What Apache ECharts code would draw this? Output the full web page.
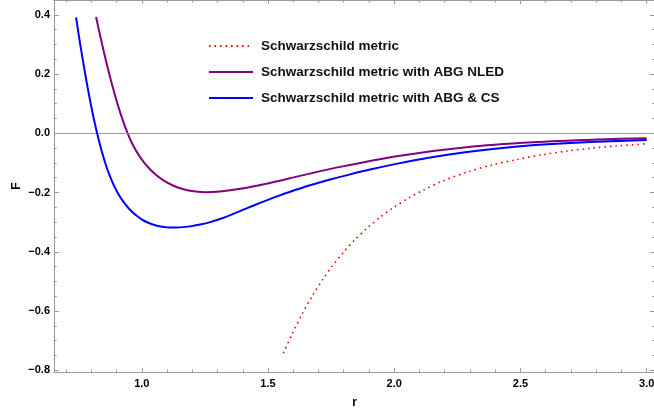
<!DOCTYPE html>
<html>
<head>
<meta charset="utf-8">
<script src="https://cdn.jsdelivr.net/npm/echarts@6/dist/echarts.min.js"></script>
<style>
  html, body { margin: 0; padding: 0; background: #fff; }
  #chart { width: 654px; height: 412px; }
</style>
</head>
<body>
<div id="chart"></div>
<script>
// Series names
const seriesNames = [
  'Schwarzschild metric',
  'Schwarzschild metric with ABG NLED',
  'Schwarzschild metric with ABG & CS'
];

// F(r) samples, [r, F]
const schwarzschild = [
  [1.5610, -0.7427], [1.5955, -0.6776], [1.6351, -0.6104], [1.6787, -0.5449],
  [1.7183, -0.4919], [1.7579, -0.4446], [1.7979, -0.4028], [1.8451, -0.3585],
  [1.8926, -0.3201], [1.9441, -0.2836], [1.9956, -0.2519], [2.0551, -0.2198],
  [2.1145, -0.1921], [2.1938, -0.1604], [2.2968, -0.1290], [2.3879, -0.1070],
  [2.4869, -0.0885], [2.5860, -0.0726], [2.6850, -0.0598], [2.7841, -0.0503],
  [2.8811, -0.0429], [3.0000, -0.0354]
];

const abgNled = [
  [0.8189, 0.3926], [0.8348, 0.3309], [0.8506, 0.2721], [0.8665, 0.2164],
  [0.8863, 0.1519], [0.9061, 0.0932], [0.9219, 0.0510], [0.9417, 0.0051],
  [0.9655, -0.0405], [0.9933, -0.0807], [1.0250, -0.1148], [1.0606, -0.1435],
  [1.0923, -0.1621], [1.1240, -0.1762], [1.1557, -0.1865], [1.1914, -0.1941],
  [1.2231, -0.1977], [1.2508, -0.1987], [1.3102, -0.1963], [1.3895, -0.1875],
  [1.4885, -0.1710], [1.6272, -0.1438], [1.7857, -0.1134], [2.0234, -0.0755],
  [2.2849, -0.0471], [2.5503, -0.0306], [2.8158, -0.0209], [3.0000, -0.0165]
];

const abgCs = [
  [0.7397, 0.3916], [0.7555, 0.3035], [0.7754, 0.2029], [0.7872, 0.1465],
  [0.7991, 0.0939], [0.8110, 0.0452], [0.8229, 0.0007], [0.8348, -0.0398],
  [0.8467, -0.0763], [0.8586, -0.1087], [0.8704, -0.1374], [0.8823, -0.1624],
  [0.8942, -0.1843], [0.9061, -0.2032], [0.9180, -0.2198], [0.9338, -0.2387],
  [0.9497, -0.2549], [0.9655, -0.2684], [0.9814, -0.2795], [1.0012, -0.2912],
  [1.0210, -0.3003], [1.0408, -0.3072], [1.0606, -0.3123], [1.0804, -0.3157],
  [1.1002, -0.3177], [1.1240, -0.3184], [1.1517, -0.3177], [1.1914, -0.3143],
  [1.2310, -0.3082], [1.2706, -0.3001], [1.3181, -0.2870], [1.3697, -0.2697],
  [1.4172, -0.2529], [1.4687, -0.2350], [1.5281, -0.2154], [1.5876, -0.1975],
  [1.6668, -0.1757], [1.7461, -0.1563], [1.8253, -0.1388], [1.9045, -0.1226],
  [2.0234, -0.1008], [2.1422, -0.0820], [2.2809, -0.0641], [2.4196, -0.0503],
  [2.5582, -0.0398], [2.6969, -0.0324], [2.8554, -0.0267], [3.0000, -0.0228]
];

// Tick positions
const xMajorTicks = [1.0, 1.5, 2.0, 2.5, 3.0];
const xMinorTicks = [0.7, 0.8, 0.9, 1.1, 1.2, 1.3, 1.4, 1.6, 1.7, 1.8, 1.9,
                     2.1, 2.2, 2.3, 2.4, 2.6, 2.7, 2.8, 2.9];
const yMajorTicks = [-0.8, -0.6, -0.4, -0.2, 0.0, 0.2, 0.4];
const yMinorTicks = [-0.75, -0.7, -0.65, -0.55, -0.5, -0.45, -0.35, -0.3, -0.25,
                     -0.15, -0.1, -0.05, 0.05, 0.1, 0.15, 0.25, 0.3, 0.35, 0.45];

const rRange = [0.6523, 3.033];
const fRange = [-0.806, 0.45];

const FONT = '"Liberation Sans", Arial, Helvetica, sans-serif';
const AXIS_GRAY = '#9a9a9a';

function fmt(v) {
  const s = Math.abs(v).toFixed(1);
  return (v < -1e-9 ? '\u2212' : '') + s;
}

// Frame axis builder: one axis per side and tick size
function frameAxis(dim, position, ticks, len, opts) {
  const range = dim === 'x' ? rRange : fRange;
  return Object.assign({
    type: 'value',
    position: position,
    min: range[0],
    max: range[1],
    axisLine: { show: true, onZero: false, lineStyle: { color: AXIS_GRAY, width: 1 } },
    axisTick: { show: true, inside: true, length: len, customValues: ticks,
                lineStyle: { color: AXIS_GRAY, width: 1 } },
    axisLabel: { show: false },
    splitLine: { show: false },
    minorTick: { show: false },
    minorSplitLine: { show: false }
  }, opts || {});
}

const labelStyle = { fontFamily: FONT, fontWeight: 'bold', fontSize: 11, color: '#000' };

const chart = echarts.init(document.getElementById('chart'), null, { renderer: 'canvas' });

chart.setOption({
  animation: false,
  backgroundColor: '#fff',
  grid: { left: 54, top: 0, width: 601, height: 372, containLabel: false,
          outerBoundsMode: 'none' },
  legend: {
    orient: 'vertical',
    left: 203,
    top: 34,
    itemWidth: 44,
    itemHeight: 12,
    itemGap: 12,
    data: seriesNames,
    itemStyle: { opacity: 0 },
    textStyle: { fontFamily: FONT, fontWeight: 'bold', fontSize: 13.5, color: '#111',
                 padding: [0, 0, 0, 3] }
  },
  xAxis: [
    frameAxis('x', 'bottom', xMajorTicks, 4, {
      axisLabel: Object.assign({ show: true, customValues: xMajorTicks, margin: 6,
                                 formatter: fmt }, labelStyle),
      name: 'r',
      nameLocation: 'middle',
      nameGap: 25,
      nameTextStyle: { fontFamily: FONT, fontWeight: 'bold', fontSize: 12, color: '#000' }
    }),
    frameAxis('x', 'bottom', xMinorTicks, 2.5),
    frameAxis('x', 'top', xMajorTicks, 4),
    frameAxis('x', 'top', xMinorTicks, 2.5)
  ],
  yAxis: [
    frameAxis('y', 'left', yMajorTicks, 5, {
      axisLabel: Object.assign({ show: true, customValues: yMajorTicks, margin: 4,
                                 formatter: fmt }, labelStyle),
      name: 'F',
      nameLocation: 'middle',
      nameGap: 31,
      nameRotate: 90,
      nameMoveOverlap: false,
      nameTextStyle: { fontFamily: FONT, fontWeight: 'bold', fontSize: 12, color: '#000' }
    }),
    frameAxis('y', 'left', yMinorTicks, 2.7),
    frameAxis('y', 'right', yMajorTicks, 5),
    frameAxis('y', 'right', yMinorTicks, 2.7)
  ],
  series: [
    {
      name: seriesNames[0],
      type: 'line',
      data: schwarzschild,
      smooth: 0.3,
      symbol: 'none',
      z: 3,
      lineStyle: { color: '#ff0000', width: 1.6, type: [1.6, 3.9], cap: 'butt' },
      itemStyle: { color: '#ff0000' },
      markLine: {
        silent: true,
        symbol: ['none', 'none'],
        label: { show: false },
        lineStyle: { color: '#999', width: 1, type: 'solid' },
        data: [{ yAxis: 0 }]
      }
    },
    {
      name: seriesNames[1],
      type: 'line',
      data: abgNled,
      smooth: 0.3,
      symbol: 'none',
      z: 4,
      lineStyle: { color: '#800080', width: 2 },
      itemStyle: { color: '#800080' }
    },
    {
      name: seriesNames[2],
      type: 'line',
      data: abgCs,
      smooth: 0.3,
      symbol: 'none',
      z: 5,
      lineStyle: { color: '#0000ff', width: 2 },
      itemStyle: { color: '#0000ff' }
    }
  ]
});
</script>
</body>
</html>
